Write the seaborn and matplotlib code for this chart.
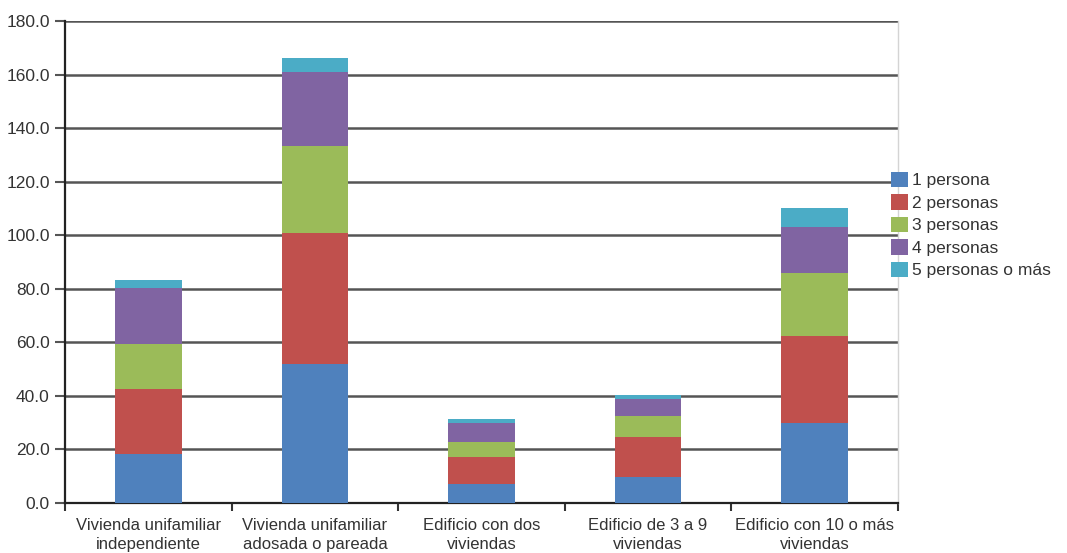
import numpy as np
import pandas as pd
import matplotlib
matplotlib.use("Agg")
import matplotlib.pyplot as plt
import seaborn as sns

# Hogares por tipo de vivienda y tamaño del hogar (miles)
categorias = [
    "Vivienda unifamiliar\nindependiente",
    "Vivienda unifamiliar\nadosada o pareada",
    "Edificio con dos\nviviendas",
    "Edificio de 3 a 9\nviviendas",
    "Edificio con 10 o más\nviviendas",
]
una_persona = [18.2, 51.9, 7.0, 9.8, 29.8]
dos_personas = [24.3, 49.1, 10.3, 14.7, 32.5]
tres_personas = [17.0, 32.5, 5.6, 8.0, 23.7]
cuatro_personas = [20.9, 27.5, 6.9, 6.3, 17.1]
cinco_o_mas = [2.7, 5.2, 1.5, 1.5, 7.1]

series = ["1 persona", "2 personas", "3 personas", "4 personas", "5 personas o más"]
valores = [una_persona, dos_personas, tres_personas, cuatro_personas, cinco_o_mas]
colores = ["#4F81BD", "#C0504D", "#9BBB59", "#8064A2", "#4BACC6"]
y_ticks = [0, 20, 40, 60, 80, 100, 120, 140, 160, 180]

sns.set_theme(style="white")
plt.rcParams["font.family"] = ["Liberation Sans", "DejaVu Sans"]

fig = plt.figure(figsize=(10.67, 5.53), dpi=100)
ax = fig.add_axes([65 / 1067, 50 / 553, (898 - 65) / 1067, (503 - 21) / 553])

# Stacked bars: draw cumulative totals from the top segment down
acumulado = np.cumsum(np.array(valores), axis=0)
df = pd.DataFrame({"tipo": categorias})
for i in range(len(series) - 1, -1, -1):
    df["total"] = acumulado[i]
    sns.barplot(data=df, x="tipo", y="total", color=colores[i], width=0.4,
                saturation=1, edgecolor="none", linewidth=0, ax=ax, zorder=3)

ax.set_xlim(-0.5, len(categorias) - 0.5)
ax.set_ylim(0, 180)
ax.set_yticks(y_ticks)
ax.set_yticklabels([f"{v:.1f}" for v in y_ticks])
ax.set_xlabel("")
ax.set_ylabel("")

ax.set_axisbelow(True)
ax.yaxis.grid(True, color="#555555", linewidth=1.8)
ax.xaxis.grid(False)

ax.tick_params(axis="y", which="major", length=7, width=1.5, color="#555555",
               labelsize=12.5, labelcolor="#333333", pad=4, left=True)
ax.set_xticks(range(len(categorias)))
ax.set_xticklabels(categorias, linespacing=1.3)
ax.tick_params(axis="x", which="major", length=0, labelsize=12,
               labelcolor="#333333", pad=11)
ax.set_xticks(np.arange(-0.5, len(categorias), 1.0), minor=True)
ax.tick_params(axis="x", which="minor", length=6, width=1.5, color="#333333",
               bottom=True)

for lado in ["left", "bottom"]:
    ax.spines[lado].set_color("#222222")
    ax.spines[lado].set_linewidth(1.6)
ax.spines["top"].set_visible(False)
ax.spines["right"].set_color("#d4d4d4")
ax.spines["right"].set_linewidth(1.0)

handles = [plt.Rectangle((0, 0), 1, 1, facecolor=c, edgecolor="none") for c in colores]
fig.legend(handles, series, loc="center left", bbox_to_anchor=(891 / 1067, 1 - 225 / 553),
           frameon=False, fontsize=12.5, handlelength=1.0, handleheight=1.0,
           handletextpad=0.2, labelspacing=0.33, borderpad=0, borderaxespad=0,
           labelcolor="#333333")

fig.savefig("out.png", dpi=100)
